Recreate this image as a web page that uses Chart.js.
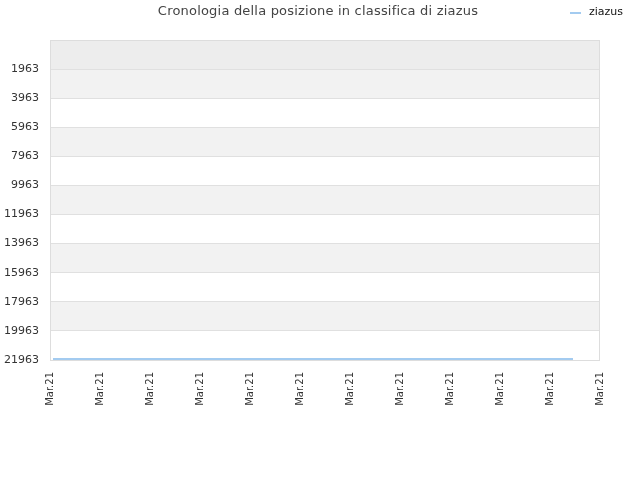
<!DOCTYPE html>
<html>
<head>
<meta charset="utf-8">
<script src="https://cdn.jsdelivr.net/npm/chart.js@4"></script>
<style>
  html, body { margin: 0; padding: 0; background: #fff; }
  #wrap { width: 640px; height: 480px; }
</style>
</head>
<body>
<div id="wrap"><canvas id="rankChart" width="640" height="480"></canvas></div>
<script>
// Chart data
const chartTitle = 'Cronologia della posizione in classifica di ziazus';
const seriesName = 'ziazus';
const xTickLabels = ['Mar.21', 'Mar.21', 'Mar.21', 'Mar.21', 'Mar.21', 'Mar.21',
                     'Mar.21', 'Mar.21', 'Mar.21', 'Mar.21', 'Mar.21', 'Mar.21'];
const yTickValues = [1963, 3963, 5963, 7963, 9963, 11963, 13963, 15963, 17963, 19963, 21963];
const pointTimes = [0.06, 2.5, 5.0, 7.5, 10.46];
const pointRanks = [21900, 21900, 21900, 21900, 21900];

const yMin = -37;
const yMax = 21963;

// Striped background + frame around the plot
const bandsPlugin = {
    id: 'bands',
    beforeDraw(chart) {
        const ctx = chart.ctx;
        const area = chart.chartArea;
        const y = chart.scales.y;
        const edges = [yMin].concat(yTickValues);
        ctx.save();
        for (let i = 0; i < edges.length - 1; i++) {
            let fill = null;
            if (i === 0) fill = '#ededed';
            else if (i % 2 === 1) fill = '#f2f2f2';
            if (!fill) continue;
            const top = y.getPixelForValue(edges[i]);
            const bottom = y.getPixelForValue(edges[i + 1]);
            ctx.fillStyle = fill;
            ctx.fillRect(area.left, top, area.right - area.left, bottom - top);
        }
        ctx.restore();
    },
    afterDraw(chart) {
        const ctx = chart.ctx;
        const area = chart.chartArea;
        ctx.save();
        ctx.strokeStyle = '#dddddd';
        ctx.lineWidth = 1;
        ctx.strokeRect(area.left + 0.5, area.top + 0.5, area.right - area.left - 1, area.bottom - area.top);

        // title
        ctx.fillStyle = '#444444';
        ctx.font = "13px 'DejaVu Sans'";
        ctx.textAlign = 'center';
        ctx.textBaseline = 'middle';
        ctx.letterSpacing = '0.2px';
        ctx.fillText(chartTitle, 318, 12);
        ctx.letterSpacing = '0px';

        // legend
        ctx.strokeStyle = '#a3cbf0';
        ctx.lineWidth = 2;
        ctx.beginPath();
        ctx.moveTo(570, 13);
        ctx.lineTo(581, 13);
        ctx.stroke();
        ctx.fillStyle = '#111111';
        ctx.font = "11px 'DejaVu Sans'";
        ctx.textAlign = 'left';
        ctx.fillText(seriesName, 589, 12);
        ctx.restore();
    }
};

const ctx = document.getElementById('rankChart').getContext('2d');
new Chart(ctx, {
    type: 'line',
    data: {
        datasets: [{
            label: seriesName,
            data: pointTimes.map((t, i) => ({ x: t, y: pointRanks[i] })),
            borderColor: '#a3cbf0',
            borderWidth: 2,
            pointRadius: 0,
            fill: false,
            tension: 0
        }]
    },
    options: {
        responsive: false,
        animation: false,
        layout: { padding: { top: 40, right: 40, bottom: 0, left: 0 } },
        plugins: {
            legend: { display: false },
            title: { display: false },
            tooltip: { enabled: false }
        },
        scales: {
            x: {
                type: 'linear',
                min: 0,
                max: 11,
                afterBuildTicks: function(axis) {
                    axis.ticks = xTickLabels.map((_, i) => ({ value: i }));
                },
                afterFit: function(axis) { axis.height = 120; },
                ticks: {
                    autoSkip: false,
                    minRotation: 90,
                    maxRotation: 90,
                    padding: 4,
                    color: '#333333',
                    font: { family: "'DejaVu Sans'", size: 10 },
                    callback: function(value, index) { return xTickLabels[index]; }
                },
                grid: { display: false },
                border: { display: false }
            },
            y: {
                reverse: true,
                min: yMin,
                max: yMax,
                afterBuildTicks: function(axis) {
                    axis.ticks = yTickValues.map(v => ({ value: v }));
                },
                afterFit: function(axis) { axis.width = 50; },
                ticks: {
                    autoSkip: false,
                    padding: 11,
                    color: '#333333',
                    font: { family: "'DejaVu Sans'", size: 11 },
                    callback: function(value) { return String(value); }
                },
                grid: { color: '#e0e0e0', drawTicks: false },
                border: { display: false }
            }
        }
    },
    plugins: [bandsPlugin]
});
</script>
</body>
</html>
